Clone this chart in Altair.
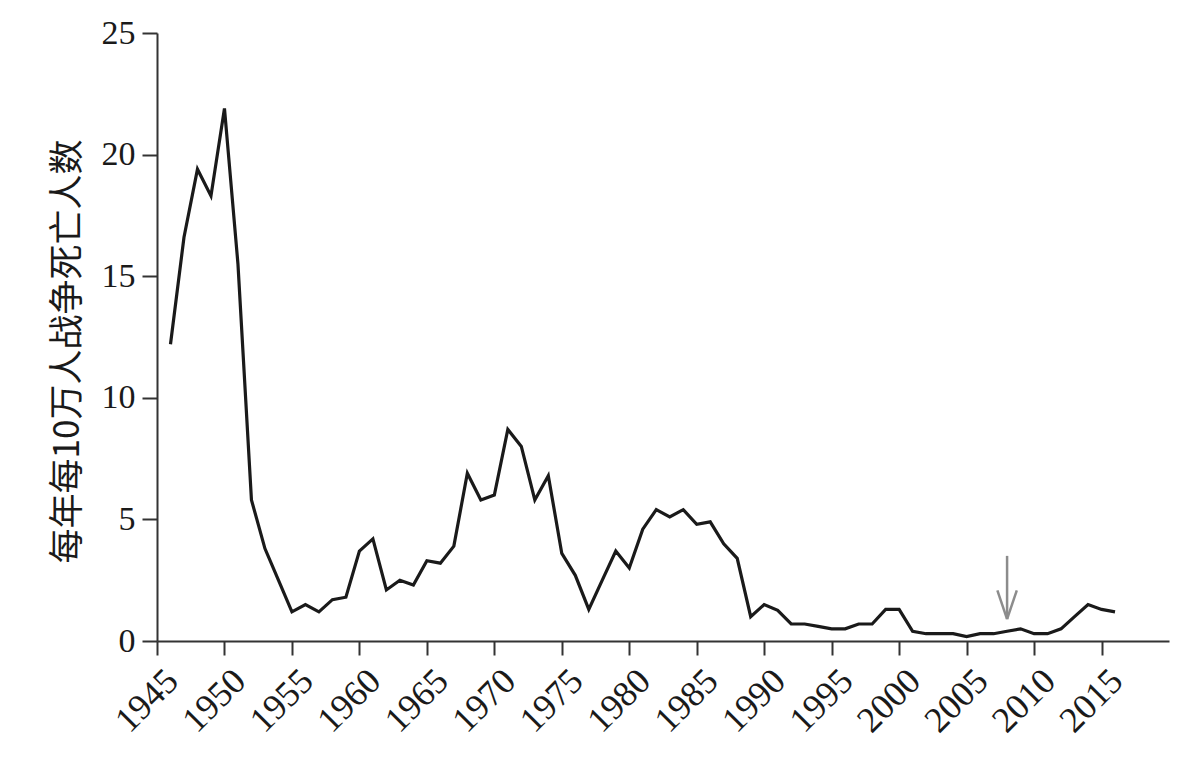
import altair as alt
import pandas as pd

years = list(range(1946, 2017))
values = [
    12.2, 16.6, 19.4, 18.3, 21.9, 15.5, 5.8, 3.8, 2.5, 1.2,   # 1946-1955
    1.5, 1.2, 1.7, 1.8, 3.7, 4.2, 2.1, 2.5, 2.3, 3.3,          # 1956-1965
    3.2, 3.9, 6.9, 5.8, 6.0, 8.7, 8.0, 5.8, 6.8, 3.6,          # 1966-1975
    2.7, 1.3, 2.5, 3.7, 3.0, 4.6, 5.4, 5.1, 5.4, 4.8,          # 1976-1985
    4.9, 4.0, 3.4, 1.0, 1.5, 1.26, 0.7, 0.7, 0.6, 0.5,         # 1986-1995
    0.5, 0.7, 0.7, 1.3, 1.3, 0.4, 0.3, 0.3, 0.3, 0.18,         # 1996-2005
    0.3, 0.3, 0.4, 0.5, 0.3, 0.3, 0.5, 1.0, 1.5, 1.3,          # 2006-2015
    1.2,                                                        # 2016
]
x_ticks = list(range(1945, 2020, 5))
y_ticks = [0, 5, 10, 15, 20, 25]

# annotation arrow (year, value from, value to)
arrow_year = 2008
arrow_top = 3.5
arrow_tip = 0.9
head_dx = 0.72
head_dy = 1.18

df = pd.DataFrame({"year": years, "value": values})

shaft = pd.DataFrame({"year": [arrow_year], "v1": [arrow_top], "v2": [arrow_tip]})
head = pd.DataFrame({
    "year": [arrow_year - head_dx, arrow_year, arrow_year + head_dx, arrow_year],
    "value": [arrow_tip + head_dy, arrow_tip, arrow_tip + head_dy, arrow_tip],
    "seg": ["a", "a", "b", "b"],
})

serif = "Liberation Serif"
title_font = "Noto Sans CJK SC"

xscale = alt.Scale(domain=[1945, 2020], nice=False, zero=False)
yscale = alt.Scale(domain=[0, 25], nice=False)

line = alt.Chart(df).mark_line(color="#1a1a1a", strokeWidth=3.2).encode(
    x=alt.X("year:Q", scale=xscale,
            axis=alt.Axis(values=x_ticks, format="d", title=None, labelAngle=-45,
                          labelFont=serif, labelFontSize=36, labelColor="#1a1a1a",
                          tickSize=14, tickWidth=2, tickColor="#333333",
                          domainColor="#333333", domainWidth=2, grid=False,
                          labelPadding=8, labelOffset=3, labelOverlap=False)),
    y=alt.Y("value:Q", scale=yscale,
            axis=alt.Axis(values=y_ticks, title="每年每10万人战争死亡人数",
                          titleFont=title_font, titleFontSize=35, titleFontWeight="normal",
                          titleColor="#1a1a1a", titleX=-90, titleY=318,
                          titleAngle=-90, titleBaseline="middle", titleAlign="center",
                          labelFont=serif, labelFontSize=34, labelColor="#1a1a1a",
                          tickSize=15, tickWidth=2, tickColor="#333333",
                          domainColor="#333333", domainWidth=2, grid=False,
                          labelPadding=7)),
)

arrow_shaft = alt.Chart(shaft).mark_rule(color="#8c8c8c", strokeWidth=2.5).encode(
    x="year:Q", y="v1:Q", y2="v2:Q")
arrow_head = alt.Chart(head).mark_line(color="#8c8c8c", strokeWidth=2.5).encode(
    x="year:Q", y="value:Q", detail="seg:N")

chart = alt.layer(line, arrow_shaft, arrow_head).properties(
    width=1012, height=608,
    background="white",
    autosize=alt.AutoSizeParams(type="none"),
    padding={"left": 149, "top": 25, "right": 10, "bottom": 100},
).configure_view(stroke=None)

chart.save("out.html", embed_options={"renderer": "svg", "actions": False})
